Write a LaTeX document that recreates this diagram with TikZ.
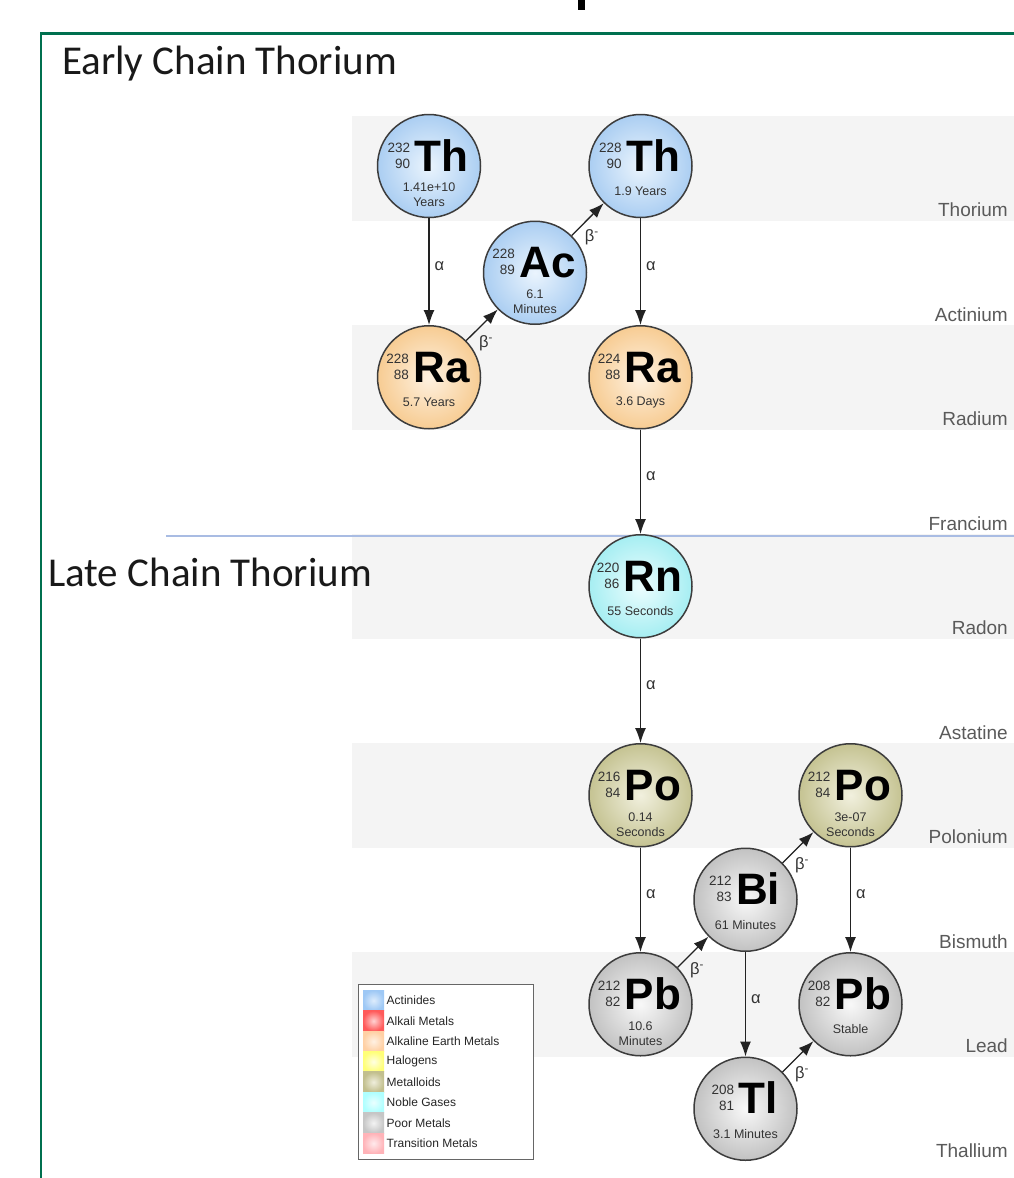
\documentclass[tikz,border=0pt]{standalone}
\usepackage{fontspec}
\setmainfont{Liberation Sans}
\newfontfamily\headfont{Carlito}
\usetikzlibrary{arrows.meta,calc}

\definecolor{framegreen}{HTML}{00704F}
\definecolor{bandgray}{HTML}{F4F4F4}
\definecolor{sepblue}{HTML}{A9BCE3}
\definecolor{rowgray}{HTML}{5A5A5A}
\definecolor{txtgray}{HTML}{333333}
\definecolor{arrgray}{HTML}{222222}
\definecolor{circbd}{HTML}{3C3C3C}
\definecolor{leggray}{HTML}{666666}
% node colours
\definecolor{actIn}{HTML}{EAF4FD}\definecolor{actOut}{HTML}{ABCEF2}
\definecolor{aeIn}{HTML}{FEF1E0}\definecolor{aeOut}{HTML}{F7CC93}
\definecolor{ngIn}{HTML}{ECFDFE}\definecolor{ngOut}{HTML}{A6EEF2}
\definecolor{mdIn}{HTML}{F1F0DE}\definecolor{mdOut}{HTML}{C5C392}
\definecolor{pmIn}{HTML}{F8F8F8}\definecolor{pmOut}{HTML}{C2C2C2}
% legend colours
\definecolor{Inact}{HTML}{DDECFC}\definecolor{Outact}{HTML}{9EC8F5}
\definecolor{Inalk}{HTML}{FFD2D2}\definecolor{Outalk}{HTML}{FF5A5A}
\definecolor{Inae}{HTML}{FFF1E3}\definecolor{Outae}{HTML}{FFD0A4}
\definecolor{Inhal}{HTML}{FFFFE2}\definecolor{Outhal}{HTML}{FFFF78}
\definecolor{Inmet}{HTML}{EFEEDC}\definecolor{Outmet}{HTML}{C2BF8E}
\definecolor{Inng}{HTML}{EAFFFF}\definecolor{Outng}{HTML}{AFFFFF}
\definecolor{Inpm}{HTML}{F3F3F3}\definecolor{Outpm}{HTML}{C6C6C6}
\definecolor{Intm}{HTML}{FFEAEC}\definecolor{Outtm}{HTML}{FFB3B8}

\tikzset{
  nucl/.style={circle, minimum size=103pt, inner sep=0pt, draw=circbd, line width=1.5pt},
  actin/.style={inner color=actIn, outer color=actOut},
  alkea/.style={inner color=aeIn, outer color=aeOut},
  noble/.style={inner color=ngIn, outer color=ngOut},
  metal/.style={inner color=mdIn, outer color=mdOut},
  poor/.style={inner color=pmIn, outer color=pmOut},
  symb/.style={inner sep=0pt, font=\fontsize{44}{44}\selectfont\bfseries, text=black},
  massn/.style={inner sep=0pt, font=\fontsize{13.5}{13.5}\selectfont, text=txtgray},
  hl/.style={inner sep=0pt, font=\fontsize{12.5}{15}\selectfont, text=txtgray, align=center},
  decay/.style={-{Latex[length=15pt,width=11pt]}, line width=1.3pt, draw=arrgray},
  alab/.style={font=\fontsize{16.5}{16.5}\selectfont, text=txtgray, inner sep=0pt},
  rowlab/.style={font=\fontsize{19}{19}\selectfont, text=rowgray, anchor=base east, inner sep=0pt},
  heading/.style={font=\headfont\fontsize{41}{41}\selectfont, text=black!90, anchor=base west, inner sep=0pt},
  band/.style={fill=bandgray, draw=none},
  swatch/.style={minimum width=21pt, minimum height=20.4pt, inner sep=0pt},
  legtxt/.style={font=\fontsize{12}{12}\selectfont, text=black!85, anchor=west, inner sep=0pt},
}

% \nuc{name}{x}{y}{style}{mass}{Z}{symbol}{half-life line 1}{half-life line 2}
\newcommand\nuc[9]{%
  \node[nucl,#4] (#1) at (#2,#3) {};
  \node[symb, anchor=base] (#1-s) at ([xshift=12.5pt,yshift=-5pt]#1.center) {#7};
  \node[massn, anchor=base east] (#1-a) at ([xshift=-4pt,yshift=19pt]#1-s.base west) {#5};
  \node[massn, anchor=base east] (#1-z) at ([xshift=-4pt,yshift=3pt]#1-s.base west) {#6};
  \if\relax\detokenize{#9}\relax
    \node[hl] (#1-h) at ([yshift=-25pt]#1.center) {#8};
  \else
    \node[hl] (#1-h) at ([yshift=-29pt]#1.center) {#8\\#9};
  \fi
}

\begin{document}
\begin{tikzpicture}[x=1pt,y=-1pt]
\useasboundingbox (0,0) rectangle (1014,1178);
\fill[white] (0,0) rectangle (1014,1178);

% bands
\foreach \i in {0,2,4,6,8} {
  \fill[band] (352,{116+104.5*\i}) rectangle (1014,{116+104.5*(\i+1)});
}
% row labels
\foreach \t [count=\i from 1] in {Thorium,Actinium,Radium,Francium,Radon,Astatine,Polonium,Bismuth,Lead,Thallium} {
  \node[rowlab] (row\i) at (1008,{116+104.5*\i-4}) {\t};
}

% separator line
\draw[sepblue, line width=1.5pt] (166,536) -- (1014,536);

% frame
\draw[framegreen, line width=2.2pt] (41,1180) -- (41,33.5) -- (1016,33.5);
\fill[black] (578,0) rectangle (585,10);

% headings
\node[heading] (early) at (62,74) {Early Chain Thorium};
\node[heading] (late) at (48,586) {Late Chain Thorium};

% nuclides
\nuc{th232}{429}{166}{actin}{232}{90}{Th}{1.41e+10}{Years}
\nuc{ac228}{535}{272.75}{actin}{228}{89}{Ac}{6.1}{Minutes}
\nuc{th228}{640.5}{166}{actin}{228}{90}{Th}{1.9 Years}{}
\nuc{ra228}{429}{377.25}{alkea}{228}{88}{Ra}{5.7 Years}{}
\nuc{ra224}{640.5}{377.25}{alkea}{224}{88}{Ra}{3.6 Days}{}
\nuc{rn220}{640.5}{586.25}{noble}{220}{86}{Rn}{55 Seconds}{}
\nuc{po216}{640.5}{795.25}{metal}{216}{84}{Po}{0.14}{Seconds}
\nuc{po212}{850.5}{795.25}{metal}{212}{84}{Po}{3e-07}{Seconds}
\nuc{bi212}{745.5}{899.75}{poor}{212}{83}{Bi}{61 Minutes}{}
\nuc{pb212}{640.5}{1004.25}{poor}{212}{82}{Pb}{10.6}{Minutes}
\nuc{pb208}{850.5}{1004.25}{poor}{208}{82}{Pb}{Stable}{}
\nuc{tl208}{745.5}{1108.75}{poor}{208}{81}{Tl}{3.1 Minutes}{}

% alpha decays
\foreach \a/\b in {th232/ra228, th228/ra224, ra224/rn220, rn220/po216, po216/pb212, bi212/tl208, po212/pb208} {
  \draw[decay] (\a) -- node[alab, pos=0.45, anchor=west, xshift=5pt] {α} (\b);
}
% beta decays
\foreach \a/\b in {ra228/ac228, ac228/th228, pb212/bi212, bi212/po212, tl208/pb208} {
  \draw[decay] (\a) -- node[alab, pos=0.5, xshift=4pt, yshift=-18pt] {β\textsuperscript{-}} (\b);
}

% legend
\node[draw=leggray, line width=1.3pt, fill=white, minimum width=175pt, minimum height=175pt, inner sep=0pt, anchor=north west] (legend) at (358,984) {};
\foreach \c/\t [count=\i from 0] in {act/Actinides, alk/Alkali Metals, ae/Alkaline Earth Metals, hal/Halogens, met/Metalloids, ng/Noble Gases, pm/Poor Metals, tm/Transition Metals} {
  \node[swatch, inner color=In\c, outer color=Out\c] (sw\i) at (373.5,{1000.5+20.4*\i}) {};
  \node[legtxt] (lt\i) at (386.5,{1000.5+20.4*\i}) {\t};
}
\end{tikzpicture}
\end{document}
